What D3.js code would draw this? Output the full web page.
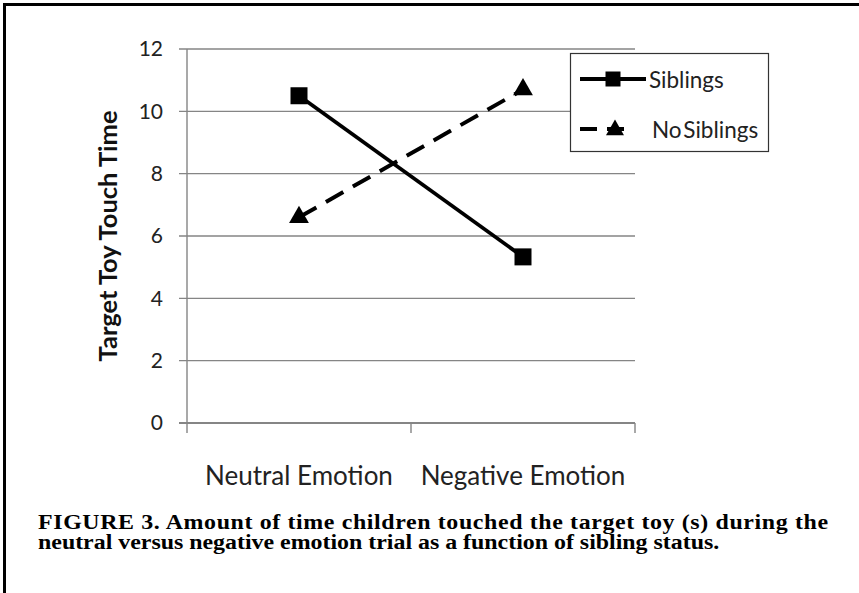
<!DOCTYPE html>
<html>
<head>
<meta charset="utf-8">
<script src="https://cdn.jsdelivr.net/npm/d3@7"></script>
<style>
  body { margin: 0; background: #fff; }
  svg { display: block; }
</style>
</head>
<body>
<svg id="chart" width="859" height="593"></svg>
<script>
"use strict"

// data
const categories = ["Neutral Emotion", "Negative Emotion"];
const seriesNames = ["Siblings", "No Siblings"];
const siblings = [10.5, 5.33];
const noSiblings = [6.6, 10.7];
const yTicks = [0, 2, 4, 6, 8, 10, 12];
const captionLines = [
  "FIGURE 3. Amount of time children touched the target toy (s) during the",
  "neutral versus negative emotion trial as a function of sibling status."
];

const svg = d3.select("#chart");
const W = 859, H = 593;
const plotLeft = 187, plotRight = 635, plotTop = 49, plotBottom = 423;
const gridColor = "#858585";
const labelFont = "Lato, 'Open Sans', sans-serif";

// frame (only top and left edge show in the picture)
svg.append("rect")
  .attr("x", 4.5).attr("y", 4.5)
  .attr("width", W + 20).attr("height", H + 20)
  .attr("fill", "none")
  .attr("stroke", "#000")
  .attr("stroke-width", 3);

const x = d3.scaleBand().domain(categories).range([plotLeft, plotRight]).padding(0);
const y = d3.scaleLinear().domain([0, 12]).range([plotBottom, plotTop]);

// grid lines
svg.append("g")
  .selectAll("line")
  .data(yTicks)
  .join("line")
  .attr("x1", plotLeft - 8).attr("x2", plotRight)
  .attr("y1", d => y(d)).attr("y2", d => y(d))
  .attr("stroke", gridColor)
  .attr("stroke-width", d => d == 0 ? 2 : 1.4);

// y axis
const yAxis = svg.append("g")
  .attr("transform", `translate(${plotLeft},0)`)
  .call(d3.axisLeft(y).tickValues(yTicks).tickSize(0).tickPadding(24));
yAxis.select(".domain").remove();
yAxis.selectAll("text")
  .attr("font-family", labelFont)
  .attr("font-size", 21)
  .attr("fill", "#222");

svg.append("line")
  .attr("x1", plotLeft).attr("x2", plotLeft)
  .attr("y1", plotTop).attr("y2", plotBottom + 10)
  .attr("stroke", gridColor).attr("stroke-width", 1.4);

// x ticks sit between categories
const xTickPos = categories.map(c => x(c)).concat([x(categories[1]) + x.bandwidth()]);
svg.append("g")
  .selectAll("line")
  .data(xTickPos.slice(1))
  .join("line")
  .attr("x1", d => d).attr("x2", d => d)
  .attr("y1", plotBottom).attr("y2", plotBottom + 10)
  .attr("stroke", gridColor).attr("stroke-width", 1.4);

svg.append("g")
  .selectAll("text")
  .data(categories)
  .join("text")
  .attr("x", d => x(d) + x.bandwidth() / 2)
  .attr("y", 485)
  .attr("text-anchor", "middle")
  .attr("font-family", labelFont)
  .attr("font-size", 26)
  .attr("fill", "#222")
  .text(d => d);

// y title
svg.append("text")
  .attr("transform", `translate(107,${(plotTop + plotBottom) / 2}) rotate(-90)`)
  .attr("text-anchor", "middle")
  .attr("dominant-baseline", "central")
  .attr("font-family", labelFont)
  .attr("font-weight", "bold")
  .attr("font-size", 25.5)
  .attr("fill", "#111")
  .text("Target Toy Touch Time");

// lines
const cx = i => x(categories[i]) + x.bandwidth() / 2;
const line = d3.line().x((d, i) => cx(i)).y(d => y(d));

svg.append("path")
  .datum(siblings)
  .attr("d", line)
  .attr("fill", "none")
  .attr("stroke", "#000")
  .attr("stroke-width", 3.8);

svg.append("path")
  .datum(noSiblings)
  .attr("d", line)
  .attr("fill", "none")
  .attr("stroke", "#000")
  .attr("stroke-width", 4)
  .attr("stroke-dasharray", "20,11");

const square = d3.symbol().type(d3.symbolSquare).size(17 * 17);
const triangle = d3.symbol().type(d3.symbolTriangle).size(170);

svg.append("g")
  .selectAll("path")
  .data(siblings)
  .join("path")
  .attr("transform", (d, i) => `translate(${cx(i)},${y(d)})`)
  .attr("d", square)
  .attr("fill", "#000");

svg.append("g")
  .selectAll("path")
  .data(noSiblings)
  .join("path")
  .attr("transform", (d, i) => `translate(${cx(i)},${y(d)})`)
  .attr("d", triangle)
  .attr("fill", "#000");

// legend
const lg = svg.append("g");
lg.append("rect")
  .attr("x", 570.5).attr("y", 53.5)
  .attr("width", 198).attr("height", 98)
  .attr("fill", "#fff")
  .attr("stroke", "#333")
  .attr("stroke-width", 1.2);

lg.append("line")
  .attr("x1", 580).attr("x2", 646).attr("y1", 79).attr("y2", 79)
  .attr("stroke", "#000").attr("stroke-width", 3.8);
lg.append("path")
  .attr("transform", "translate(613,79)")
  .attr("d", d3.symbol().type(d3.symbolSquare).size(15 * 15)())
  .attr("fill", "#000");

lg.append("line")
  .attr("x1", 580).attr("x2", 632).attr("y1", 129).attr("y2", 129)
  .attr("stroke", "#000").attr("stroke-width", 4)
  .attr("stroke-dasharray", "17,10");
lg.append("path")
  .attr("transform", "translate(615,130)")
  .attr("d", d3.symbol().type(d3.symbolTriangle).size(140)())
  .attr("fill", "#000");

lg.selectAll("text.lab")
  .data(seriesNames)
  .join("text")
  .attr("class", "lab")
  .attr("x", (d, i) => i == 0 ? 649 : 652)
  .attr("y", (d, i) => i == 0 ? 79 : 129)
  .attr("dominant-baseline", "central")
  .attr("font-family", labelFont)
  .attr("font-size", 22.5)
  .attr("word-spacing", -4)
  .attr("fill", "#222")
  .text(d => d);

// caption, stretched sideways like the scanned original
const captionScale = 1.195;
svg.append("g")
  .attr("transform", `translate(38,0) scale(${captionScale},1)`)
  .selectAll("text")
  .data(captionLines)
  .join("text")
  .attr("x", 0)
  .attr("y", (d, i) => 529 + i * 20)
  .attr("font-family", "'Liberation Serif', 'Times New Roman', serif")
  .attr("font-weight", "bold")
  .attr("font-size", 20)
  .attr("fill", "#000")
  .attr("textLength", (d, i) => i == 0 ? 790 / captionScale : null)
  .attr("lengthAdjust", "spacing")
  .text(d => d);
</script>
</body>
</html>
